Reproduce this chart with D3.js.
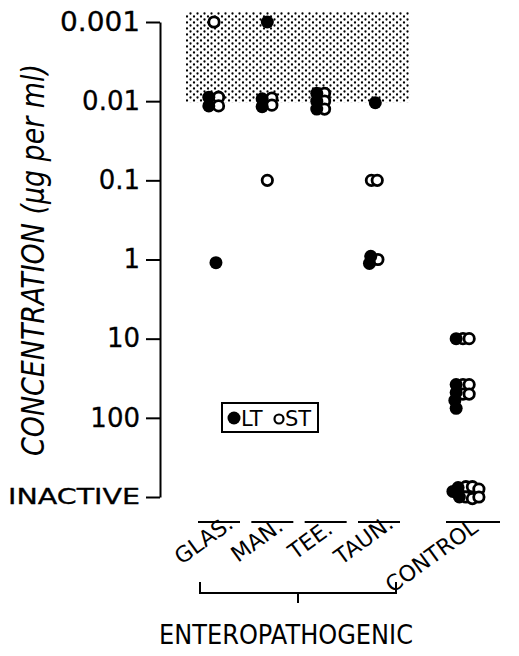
<!DOCTYPE html>
<html>
<head>
<meta charset="utf-8">
<script src="https://cdn.jsdelivr.net/npm/d3@7"></script>
<style>
  body { margin: 0; background: #fff; }
  text { font-family: "DejaVu Sans", sans-serif; fill: #000; }
</style>
</head>
<body>
<div id="chart"></div>
<script>
// groups along the x axis (control sits after a gap)
const categories = ["GLAS.", "MAN.", "TEE.", "TAUN.", "CONTROL"];
const lanes = [0, 1, 2, 3, 4.65];
const tickLabels = ["0.001", "0.01", "0.1", "1", "10", "100", "INACTIVE"];

// [group, level (tick index, fractional = spread inside a cluster), side slot]
const ltPoints = [
  ["GLAS.", 0.95, -0.8], ["GLAS.", 1.06, -0.8], ["GLAS.", 3.04, 0.3],
  ["MAN.", 0, 0], ["MAN.", 0.97, -0.8], ["MAN.", 1.07, -0.8],
  ["TEE.", 0.9, -0.6], ["TEE.", 1.0, -0.6], ["TEE.", 1.1, -0.6],
  ["TAUN.", 1.02, 0.2], ["TAUN.", 2.96, -0.5], ["TAUN.", 3.05, -0.7],
  ["CONTROL", 4.0, -0.9],
  ["CONTROL", 4.58, -0.9], ["CONTROL", 4.68, -0.9], ["CONTROL", 4.78, -1.1], ["CONTROL", 4.88, -0.9],
  ["CONTROL", 5.93, -1.4], ["CONTROL", 5.88, -0.6], ["CONTROL", 6.0, -0.4]
];
const stPoints = [
  ["GLAS.", 0, 0], ["GLAS.", 0.95, 0.7], ["GLAS.", 1.06, 0.7],
  ["MAN.", 0.96, 0.7], ["MAN.", 1.05, 0.7], ["MAN.", 2.0, 0],
  ["TEE.", 0.9, 0.6], ["TEE.", 1.0, 0.6], ["TEE.", 1.1, 0.6],
  ["TAUN.", 2.0, -0.4], ["TAUN.", 2.0, 0.5], ["TAUN.", 3.0, 0.6],
  ["CONTROL", 4.0, 0.15], ["CONTROL", 4.0, 1.1],
  ["CONTROL", 4.58, 0.15], ["CONTROL", 4.58, 1.1], ["CONTROL", 4.7, 0.15], ["CONTROL", 4.7, 1.1],
  ["CONTROL", 5.87, 0.6], ["CONTROL", 5.87, 1.6], ["CONTROL", 5.9, 2.6],
  ["CONTROL", 6.0, 0.6], ["CONTROL", 6.02, 1.6], ["CONTROL", 6.0, 2.6]
];

var width = 519, height = 656;
var R = 6.5;

var svg = d3.select("#chart").append("svg")
  .attr("width", width)
  .attr("height", height);

var laneOf = d3.scaleOrdinal().domain(categories).range(lanes);
var x = d3.scaleLinear().domain([0, 4.65]).range([214, 462]);
var y = d3.scaleLinear().domain([0, 6]).range([22, 497]);

// stipple pattern for the shaded band
var defs = svg.append("defs");
var pat = defs.append("pattern")
  .attr("id", "stipple")
  .attr("patternUnits", "userSpaceOnUse")
  .attr("width", 7).attr("height", 6);
pat.append("circle").attr("cx", 1.5).attr("cy", 1.5).attr("r", 1.15).attr("fill", "#000");
pat.append("circle").attr("cx", 5).attr("cy", 4.5).attr("r", 1.15).attr("fill", "#000");

svg.append("rect")
  .attr("x", x(0) - 28)
  .attr("y", y(0) - 10)
  .attr("width", x(3) + 36 - (x(0) - 28))
  .attr("height", y(1) - y(0) + 11)
  .attr("fill", "url(#stipple)");

// y axis
var yAxis = d3.axisLeft(y)
  .tickValues(d3.range(tickLabels.length))
  .tickFormat(function (d) { return tickLabels[d]; })
  .tickSize(14)
  .tickSizeOuter(0)
  .tickPadding(6);

var gy = svg.append("g")
  .attr("transform", "translate(160,0)")
  .call(yAxis);
gy.selectAll("path, line").attr("stroke", "#000").attr("stroke-width", 2);
gy.selectAll("text")
  .style("font-family", "DejaVu Sans, sans-serif")
  .style("font-size", function (d) { return d == 6 ? "21px" : "26px"; })
  .attr("fill", "#000")
  .attr("stroke", "#000")
  .attr("stroke-width", 0.3);
gy.selectAll(".tick text").filter(function (d) { return d == 6; })
  .attr("textLength", 132).attr("lengthAdjust", "spacingAndGlyphs");
gy.selectAll(".tick text").filter(function (d) { return d == 0; })
  .attr("textLength", 80).attr("lengthAdjust", "spacingAndGlyphs");

svg.append("text")
  .attr("transform", "translate(44,260) rotate(-90)")
  .attr("text-anchor", "middle")
  .style("font-family", "DejaVu Sans Condensed, DejaVu Sans, sans-serif")
  .style("font-style", "oblique")
  .style("font-size", "32px")
  .attr("textLength", 392)
  .attr("lengthAdjust", "spacingAndGlyphs")
  .text("CONCENTRATION (µg per ml)");

// points: ST first, LT on top
function px(d) { return x(laneOf(d[0])) + d[2] * R; }
svg.append("g").selectAll("circle")
  .data(stPoints)
  .enter().append("circle")
  .attr("cx", px)
  .attr("cy", function (d) { return y(d[1]); })
  .attr("r", R - 1.3)
  .attr("fill", "#fff")
  .attr("stroke", "#000")
  .attr("stroke-width", 2.8);

svg.append("g").selectAll("circle")
  .data(ltPoints)
  .enter().append("circle")
  .attr("cx", px)
  .attr("cy", function (d) { return y(d[1]); })
  .attr("r", R)
  .attr("fill", "#000");

// legend
var lg = svg.append("g").attr("transform", "translate(222,403)");
lg.append("rect").attr("width", 96).attr("height", 29)
  .attr("fill", "none").attr("stroke", "#000").attr("stroke-width", 2);
lg.append("circle").attr("cx", 12).attr("cy", 15).attr("r", 6.5).attr("fill", "#000");
lg.append("text").attr("x", 19).attr("y", 23).style("font-size", "21px").text("LT");
lg.append("circle").attr("cx", 57).attr("cy", 16).attr("r", 4.5).attr("fill", "#fff")
  .attr("stroke", "#000").attr("stroke-width", 2.2);
lg.append("text").attr("x", 63).attr("y", 23).style("font-size", "21px").text("ST");

// category underlines and labels
var cat = svg.append("g").selectAll("g")
  .data(categories)
  .enter().append("g");
cat.append("line")
  .attr("x1", function (d) { return x(laneOf(d)) - 16; })
  .attr("x2", function (d) { return x(laneOf(d)) + 26 + (d == "CONTROL" ? 12 : 0); })
  .attr("y1", 522).attr("y2", 522)
  .attr("stroke", "#000").attr("stroke-width", 2);
cat.append("text")
  .attr("transform", function (d) {
    var cx = x(laneOf(d)) + (d == "CONTROL" ? -26 : -6);
    var cy = d == "CONTROL" ? 562 : 546;
    return "translate(" + cx + "," + cy + ") rotate(-36)";
  })
  .attr("text-anchor", "middle")
  .style("font-size", "22px")
  .text(function (d) { return d; });

// bracket for enteropathogenic groups
var bx0 = x(0) - 14, bx1 = x(3) + 22, bm = (bx0 + bx1) / 2;
svg.append("path")
  .attr("d", "M" + bx0 + ",582V593H" + bx1 + "V582M" + bm + ",593V603")
  .attr("fill", "none").attr("stroke", "#000").attr("stroke-width", 2);
svg.append("text")
  .attr("x", bm - 12).attr("y", 644)
  .attr("text-anchor", "middle")
  .style("font-size", "27px")
  .attr("textLength", 254)
  .attr("lengthAdjust", "spacingAndGlyphs")
  .text("ENTEROPATHOGENIC");
</script>
</body>
</html>
